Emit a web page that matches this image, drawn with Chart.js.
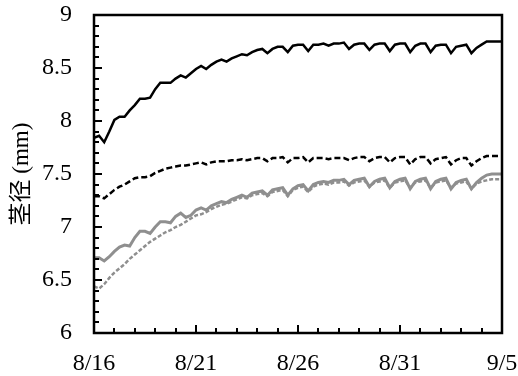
<!DOCTYPE html>
<html>
<head>
<meta charset="utf-8">
<script src="https://cdn.jsdelivr.net/npm/chart.js@4/dist/chart.umd.min.js"></script>
<style>
  html, body { margin: 0; padding: 0; background: #fff; }
  #wrap { width: 518px; height: 376px; }
</style>
</head>
<body>
<div id="wrap"><canvas id="stem"></canvas></div>
<script>
"use strict";

// stem diameter (mm), sampled every 6 h from 8/16 0:00 to 9/5 0:00
const dayLabels = ['8/16', '8/21', '8/26', '8/31', '9/5'];
const sampleDays = Array.from({ length: 81 }, (_, i) => i / 4);

const blackSolid = [
  7.84, 7.86, 7.80, 7.90,  8.01, 8.04, 8.04, 8.10,  8.15, 8.21, 8.21, 8.22,
  8.30, 8.36, 8.36, 8.36,  8.40, 8.43, 8.41, 8.45,  8.49, 8.52, 8.49, 8.53,
  8.56, 8.58, 8.56, 8.59,  8.61, 8.63, 8.62, 8.65,  8.67, 8.68, 8.64, 8.68,
  8.70, 8.70, 8.65, 8.71,  8.72, 8.72, 8.66, 8.72,  8.72, 8.73, 8.71, 8.73,
  8.73, 8.74, 8.68, 8.72,  8.73, 8.73, 8.67, 8.72,  8.73, 8.73, 8.66, 8.72,
  8.73, 8.73, 8.65, 8.71,  8.73, 8.73, 8.65, 8.71,  8.72, 8.72, 8.64, 8.70,
  8.71, 8.72, 8.64, 8.69,  8.72, 8.75, 8.75, 8.75,  8.75
];
const blackDashed = [
  7.29, 7.29, 7.27, 7.31,  7.35, 7.38, 7.40, 7.43,  7.46, 7.47, 7.47, 7.48,
  7.51, 7.53, 7.55, 7.56,  7.57, 7.58, 7.58, 7.59,  7.60, 7.61, 7.59, 7.61,
  7.62, 7.62, 7.62, 7.63,  7.63, 7.64, 7.63, 7.64,  7.65, 7.65, 7.62, 7.65,
  7.65, 7.66, 7.61, 7.65,  7.65, 7.66, 7.61, 7.65,  7.65, 7.65, 7.64, 7.65,
  7.65, 7.65, 7.63, 7.65,  7.66, 7.66, 7.62, 7.65,  7.66, 7.66, 7.61, 7.65,
  7.66, 7.66, 7.59, 7.64,  7.66, 7.66, 7.60, 7.64,  7.65, 7.66, 7.59, 7.63,
  7.65, 7.65, 7.58, 7.62,  7.65, 7.67, 7.67, 7.67,  7.67
];
const greySolid = [
  6.71, 6.71, 6.68, 6.72,  6.77, 6.81, 6.83, 6.82,  6.90, 6.96, 6.96, 6.94,
  7.00, 7.05, 7.05, 7.04,  7.10, 7.13, 7.09, 7.11,  7.16, 7.18, 7.16, 7.20,
  7.22, 7.24, 7.23, 7.26,  7.28, 7.30, 7.28, 7.32,  7.33, 7.34, 7.30, 7.35,
  7.36, 7.37, 7.30, 7.36,  7.39, 7.40, 7.34, 7.40,  7.42, 7.43, 7.42, 7.44,
  7.44, 7.45, 7.40, 7.44,  7.45, 7.46, 7.38, 7.43,  7.45, 7.46, 7.37, 7.43,
  7.45, 7.46, 7.36, 7.43,  7.45, 7.46, 7.36, 7.43,  7.45, 7.46, 7.36, 7.42,
  7.44, 7.45, 7.36, 7.42,  7.46, 7.49, 7.50, 7.50,  7.50
];
const greyDashed = [
  6.44, 6.42, 6.46, 6.52,  6.57, 6.61, 6.65, 6.70,  6.74, 6.78, 6.82, 6.86,
  6.89, 6.92, 6.95, 6.97,  7.00, 7.02, 7.05, 7.08,  7.11, 7.12, 7.14, 7.17,
  7.19, 7.21, 7.22, 7.24,  7.26, 7.28, 7.27, 7.30,  7.31, 7.32, 7.29, 7.33,
  7.34, 7.35, 7.29, 7.35,  7.37, 7.38, 7.33, 7.38,  7.40, 7.41, 7.40, 7.42,
  7.42, 7.43, 7.39, 7.42,  7.43, 7.44, 7.38, 7.42,  7.43, 7.44, 7.37, 7.42,
  7.43, 7.44, 7.37, 7.42,  7.43, 7.44, 7.37, 7.42,  7.43, 7.44, 7.37, 7.41,
  7.42, 7.43, 7.36, 7.41,  7.43, 7.44, 7.45, 7.45,  7.45
];

const GREY = '#8f8f8f';
const FONT = '"Liberation Serif", "Noto Sans CJK SC", serif';

function points(series) {
  return sampleDays.map((d, i) => ({ x: d, y: series[i] }));
}

// closed frame plus inward tick marks on the left and bottom axes
const frameTicks = {
  id: 'frameTicks',
  afterDatasetsDraw(chart) {
    const { ctx, chartArea: a, scales: { x, y } } = chart;
    ctx.save();
    ctx.strokeStyle = '#000';
    ctx.lineWidth = 2;
    ctx.beginPath();
    for (let i = 1; i < 30; i++) {
      const py = Math.round(y.getPixelForValue(6 + i / 10));
      const len = i % 5 === 0 ? 8 : 5;
      ctx.moveTo(a.left, py);
      ctx.lineTo(a.left + len, py);
    }
    for (let d = 1; d < 20; d++) {
      const px = Math.round(x.getPixelForValue(d));
      const len = d % 5 === 0 ? 8 : 5;
      ctx.moveTo(px, a.bottom);
      ctx.lineTo(px, a.bottom - len);
    }
    ctx.stroke();
    ctx.lineWidth = 2.5;
    ctx.strokeRect(a.left, a.top, a.right - a.left, a.bottom - a.top);
    ctx.restore();
  }
};

function draw() {
  new Chart(document.getElementById('stem'), {
    type: 'line',
    data: {
      datasets: [
        { data: points(blackSolid), borderColor: '#000', borderWidth: 2.5, order: 4 },
        { data: points(blackDashed), borderColor: '#000', borderWidth: 2.5, borderDash: [6, 3], order: 3 },
        { data: points(greySolid), borderColor: GREY, borderWidth: 3, order: 2 },
        { data: points(greyDashed), borderColor: GREY, borderWidth: 2.5, borderDash: [4, 2], order: 1 }
      ]
    },
    options: {
      responsive: true,
      maintainAspectRatio: false,
      animation: false,
      layout: { padding: { left: 0, top: 15, right: 16, bottom: 0 } },
      elements: { point: { radius: 0 }, line: { tension: 0 } },
      plugins: { legend: { display: false }, tooltip: { enabled: false } },
      scales: {
        x: {
          type: 'linear',
          min: 0,
          max: 20,
          grid: { display: false },
          border: { display: false },
          ticks: {
            stepSize: 5,
            padding: 8,
            color: '#000',
            font: { family: FONT, size: 24 },
            maxRotation: 0,
            callback: v => dayLabels[v / 5]
          },
          // fixed axis box; edge labels may hang into the padding
          afterFit: s => { s.height = 43; s.paddingLeft = 0; s.paddingRight = 0; }
        },
        y: {
          min: 6,
          max: 9,
          grid: { display: false },
          border: { display: false },
          ticks: {
            stepSize: 0.5,
            padding: 14,
            color: '#000',
            font: { family: FONT, size: 24 },
            callback: v => String(v)
          },
          title: {
            display: true,
            text: '茎径 (mm)',
            color: '#000',
            font: { family: FONT, size: 23 },
            padding: { top: 8, bottom: 0 }
          },
          afterFit: s => { s.width = 94; s.paddingTop = 0; s.paddingBottom = 0; }
        }
      }
    },
    plugins: [frameTicks]
  });
}

Promise.all([
  document.fonts.load('24px "Liberation Serif"'),
  document.fonts.load('23px "Noto Sans CJK SC"', '茎径')
]).then(draw, draw);
</script>
</body>
</html>
